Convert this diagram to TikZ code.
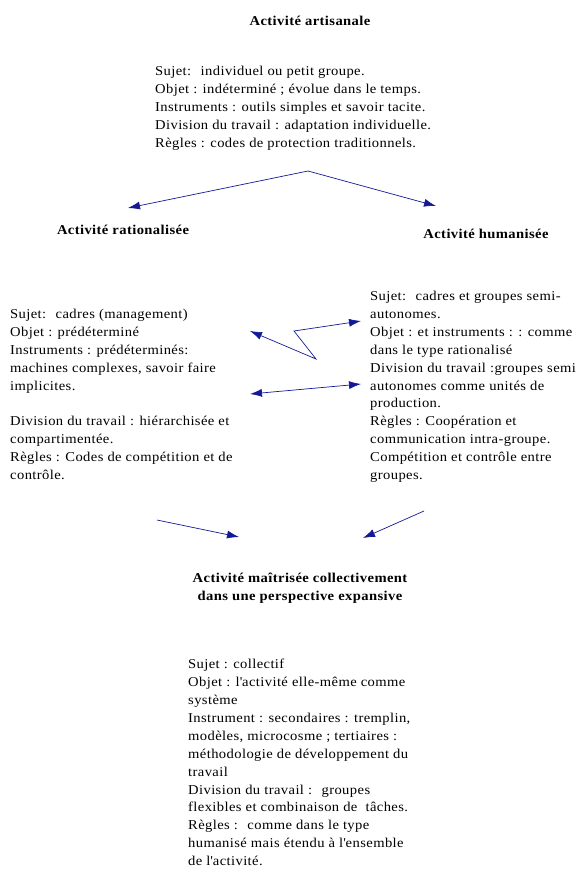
\documentclass[tikz,border=0pt]{standalone}
\usepackage{fontspec}
\setmainfont{Liberation Serif}[FakeStretch=1.08,LetterSpace=3]
\usetikzlibrary{arrows.meta,positioning}
\definecolor{flechebleu}{RGB}{20,25,150}

\begin{document}
\begin{tikzpicture}[x=1pt,y=-1pt,
  titre/.style={font=\bfseries\fontsize{13.5}{18}\selectfont,align=center,inner sep=0pt},
  bloc/.style={font=\fontsize{13.5}{17.9}\selectfont,align=left,anchor=north west,inner sep=0pt},
  fleche/.style={draw=flechebleu,line width=0.7pt,-{Latex[length=12pt,width=8pt]}},
  doublefleche/.style={fleche,{Latex[length=12pt,width=8pt]}-{Latex[length=12pt,width=8pt]}}]
\useasboundingbox (0,0) rectangle (580,870);

% titres
\node[titre] (artisanale) at (310,21) {Activité artisanale};
\node[titre] (rationalisee) at (123,230) {Activité rationalisée};
\node[titre] (humanisee) at (486,234) {Activité humanisée};
\node[titre] (maitrisee) at (300,588) {Activité maîtrisée collectivement\\dans une perspective expansive};

% textes
\node[bloc] (artisanale-txt) at (155,66) {Sujet:~ individuel ou petit groupe.\\
Objet : indéterminé ; évolue dans le temps.\\
Instruments : outils simples et savoir tacite.\\
Division du travail : adaptation individuelle.\\
Règles : codes de protection traditionnels.};
\node[bloc] (rationalisee-txt) at (10,309) {Sujet:~ cadres (management)\\
Objet : prédéterminé\\
Instruments : prédéterminés:\\
machines complexes, savoir faire\\
implicites.\\[17.9pt]
Division du travail : hiérarchisée et\\
compartimentée.\\
Règles : Codes de compétition et de\\
contrôle.};
\node[bloc] (humanisee-txt) at (370,291) {Sujet:~ cadres et groupes semi-\\
autonomes.\\
Objet : et instruments : : comme\\
dans le type rationalisé\\
Division du travail :groupes semi\\
autonomes comme unités de\\
production.\\
Règles : Coopération et\\
communication intra-groupe.\\
Compétition et contrôle entre\\
groupes.};
\node[bloc] (maitrisee-txt) at (188,659) {Sujet : collectif\\
Objet : l\textquotesingle activité elle-même comme\\
système\\
Instrument : secondaires : tremplin,\\
modèles, microcosme ; tertiaires :\\
méthodologie de développement du\\
travail\\
Division du travail :~ groupes\\
flexibles et combinaison de~ tâches.\\
Règles :~ comme dans le type\\
humanisé mais étendu à l\textquotesingle ensemble\\
de l\textquotesingle activité.};

% fleches
\coordinate (sommet) at (308,171);
\coordinate (vers-rat) at (128,208);
\coordinate (vers-hum) at (436,206);
\draw[fleche] (sommet) -- (vers-rat);
\draw[fleche] (sommet) -- (vers-hum);

\coordinate (zig-a) at (250,331);
\coordinate (zig-b) at (316,359);
\coordinate (zig-c) at (294,331);
\coordinate (zig-d) at (361,321);
\draw[doublefleche] (zig-a) -- (zig-b) -- (zig-c) -- (zig-d);

\coordinate (bi-a) at (250,394);
\coordinate (bi-b) at (361,384);
\draw[doublefleche] (bi-a) -- (bi-b);

\coordinate (depart-rat) at (157,520);
\coordinate (arrivee-rat) at (239,537);
\coordinate (depart-hum) at (424,511);
\coordinate (arrivee-hum) at (363,538);
\draw[fleche] (depart-rat) -- (arrivee-rat);
\draw[fleche] (depart-hum) -- (arrivee-hum);
\end{tikzpicture}
\end{document}
